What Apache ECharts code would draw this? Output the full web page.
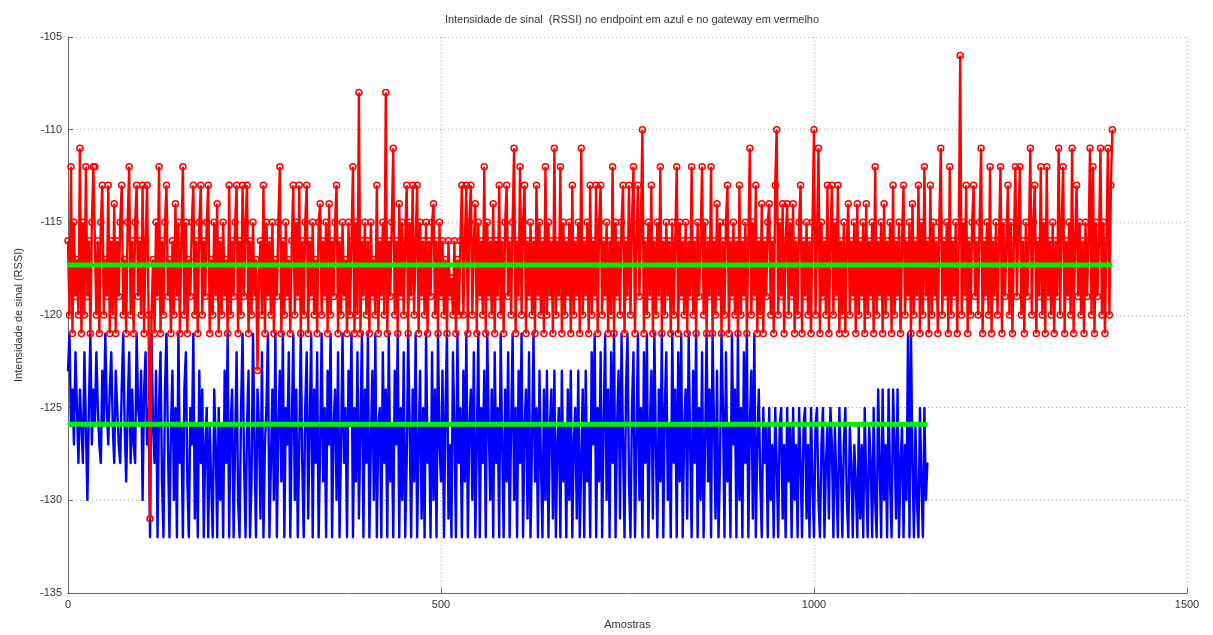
<!DOCTYPE html>
<html>
<head>
    <meta charset="utf-8" />
    <title>RSSI</title>
    <script type="text/javascript" src="https://cdn.jsdelivr.net/npm/echarts@6/dist/echarts.min.js"></script>
    <style>
        html, body { margin: 0; padding: 0; background: #fff; }
        #chart { width: 1213px; height: 635px; }
    </style>
</head>
<body>
    <div id="chart"></div>
    <script type="text/javascript">
        // one stored value every 2 samples
        var sampleStep = 2;

        // gateway (vermelho)
        var redRssi = [
            -116,-120,-112,-121,-115,-119,-117,-120,-111,-121,
            -115,-120,-112,-119,-116,-121,-115,-112,-112,-120,
            -116,-121,-115,-113,-120,-117,-119,-113,-121,-116,
            -120,-114,-121,-116,-119,-115,-113,-120,-117,-121,
            -115,-112,-120,-116,-121,-115,-113,-119,-116,-120,
            -113,-121,-116,-113,-120,-131,-120,-117,-121,-115,
            -119,-112,-121,-116,-120,-115,-113,-119,-117,-121,
            -116,-120,-114,-119,-115,-121,-116,-112,-120,-115,
            -121,-117,-119,-115,-113,-120,-116,-121,-115,-113,
            -120,-116,-119,-115,-113,-121,-117,-120,-115,-119,
            -114,-121,-116,-120,-115,-119,-117,-121,-113,-120,
            -116,-119,-115,-113,-121,-116,-120,-113,-119,-115,
            -113,-121,-116,-120,-115,-119,-117,-123,-118,-116,
            -120,-113,-121,-115,-119,-116,-120,-115,-121,-117,
            -119,-115,-112,-121,-116,-120,-115,-119,-117,-121,
            -116,-113,-120,-115,-119,-113,-121,-116,-120,-115,
            -113,-121,-116,-119,-115,-120,-117,-121,-115,-114,
            -120,-116,-119,-115,-121,-114,-120,-116,-119,-115,
            -113,-121,-116,-120,-115,-119,-117,-121,-115,-120,
            -116,-112,-121,-115,-120,-108,-121,-116,-119,-115,
            -120,-116,-121,-115,-119,-117,-120,-113,-121,-116,
            -119,-115,-120,-108,-121,-116,-119,-115,-111,-120,
            -116,-121,-114,-119,-115,-120,-116,-113,-121,-115,
            -119,-113,-120,-116,-113,-121,-115,-119,-116,-120,
            -115,-121,-116,-119,-115,-114,-120,-116,-121,-115,
            -119,-116,-120,-117,-121,-116,-119,-118,-120,-116,
            -121,-117,-120,-116,-113,-120,-116,-113,-121,-115,
            -113,-120,-116,-114,-121,-115,-119,-116,-120,-112,
            -121,-115,-119,-116,-120,-114,-121,-116,-119,-113,
            -120,-116,-121,-115,-113,-119,-116,-120,-115,-111,
            -121,-116,-119,-112,-120,-115,-113,-121,-116,-119,
            -115,-120,-116,-121,-113,-119,-115,-120,-116,-121,
            -112,-120,-115,-119,-116,-121,-111,-120,-116,-119,
            -112,-121,-115,-120,-116,-119,-115,-121,-113,-120,
            -116,-119,-115,-121,-111,-120,-116,-119,-115,-121,
            -113,-120,-116,-119,-113,-121,-115,-113,-120,-116,
            -119,-115,-121,-116,-120,-112,-121,-115,-119,-116,
            -120,-115,-113,-121,-116,-119,-113,-120,-115,-112,
            -121,-116,-113,-119,-115,-110,-121,-116,-120,-115,
            -119,-113,-121,-116,-120,-115,-119,-112,-121,-116,
            -120,-115,-119,-116,-121,-115,-120,-116,-112,-121,
            -115,-119,-116,-120,-115,-121,-116,-119,-112,-120,
            -116,-121,-115,-119,-116,-112,-120,-115,-121,-116,
            -119,-112,-121,-116,-120,-114,-119,-115,-121,-116,
            -120,-115,-113,-121,-116,-119,-115,-120,-116,-121,
            -113,-120,-116,-119,-115,-121,-116,-111,-120,-115,
            -119,-113,-121,-116,-120,-114,-121,-116,-119,-115,
            -114,-120,-116,-121,-113,-110,-120,-115,-119,-114,
            -121,-116,-114,-120,-115,-119,-114,-121,-116,-120,
            -115,-113,-121,-116,-119,-115,-120,-116,-121,-115,
            -110,-120,-116,-111,-121,-115,-119,-116,-120,-113,
            -121,-116,-113,-120,-115,-119,-113,-121,-116,-120,
            -115,-121,-116,-114,-120,-116,-119,-115,-121,-114,
            -120,-116,-119,-115,-121,-114,-120,-116,-119,-115,
            -121,-112,-120,-116,-119,-115,-121,-114,-120,-116,
            -119,-115,-121,-113,-120,-116,-119,-115,-121,-116,
            -113,-120,-116,-119,-115,-121,-114,-120,-116,-119,
            -113,-121,-115,-120,-112,-119,-116,-121,-113,-120,
            -115,-119,-116,-121,-115,-111,-120,-116,-119,-115,
            -121,-112,-120,-116,-119,-115,-121,-116,-106,-120,
            -115,-119,-113,-121,-116,-120,-115,-113,-119,-116,
            -120,-115,-111,-121,-116,-119,-115,-120,-112,-121,
            -116,-119,-115,-120,-116,-112,-121,-115,-119,-116,
            -113,-120,-115,-121,-116,-112,-119,-115,-112,-120,
            -116,-121,-115,-119,-116,-111,-120,-115,-113,-121,
            -116,-119,-112,-120,-115,-121,-112,-119,-116,-120,
            -115,-121,-116,-119,-111,-120,-115,-112,-121,-116,
            -119,-115,-120,-111,-121,-116,-113,-119,-115,-120,
            -116,-121,-115,-119,-116,-111,-120,-112,-121,-115,
            -119,-116,-111,-120,-115,-121,-116,-111,-120,-113,
            -110
        ];

        // endpoint (azul)
        var blueRssi = [
            -123,-121,-126,-124,-127,-122,-125,-128,-124,-126,
            -128,-122,-126,-130,-125,-121,-127,-124,-126,-122,
            -125,-127,-128,-123,-126,-121,-125,-127,-124,-122,
            -126,-128,-123,-125,-127,-128,-124,-121,-126,-129,
            -125,-122,-128,-124,-127,-128,-121,-125,-126,-123,
            -130,-124,-122,-127,-125,-132,-121,-126,-128,-123,
            -132,-125,-122,-129,-132,-124,-121,-127,-132,-126,
            -123,-130,-125,-132,-121,-128,-126,-132,-124,-122,
            -129,-132,-125,-127,-121,-131,-126,-132,-123,-128,
            -124,-132,-127,-125,-132,-126,-129,-132,-124,-127,
            -132,-125,-130,-126,-132,-123,-128,-121,-132,-126,
            -124,-132,-127,-122,-130,-132,-125,-121,-128,-132,
            -126,-123,-132,-129,-121,-127,-132,-124,-126,-131,
            -122,-132,-127,-125,-121,-132,-128,-124,-130,-121,
            -132,-126,-123,-129,-121,-132,-125,-127,-122,-132,
            -126,-121,-130,-124,-132,-127,-121,-128,-132,-125,
            -122,-131,-126,-121,-132,-124,-128,-122,-132,-127,
            -121,-129,-125,-132,-123,-127,-121,-132,-126,-124,
            -130,-122,-132,-127,-121,-128,-125,-132,-123,-126,
            -121,-132,-125,-129,-122,-131,-126,-121,-132,-124,
            -128,-121,-132,-127,-123,-130,-121,-132,-126,-125,
            -132,-122,-128,-124,-132,-121,-129,-126,-132,-123,
            -127,-121,-132,-125,-130,-122,-132,-128,-121,-126,
            -132,-124,-129,-121,-132,-127,-123,-131,-125,-132,
            -121,-128,-126,-132,-122,-130,-124,-132,-121,-127,
            -129,-123,-132,-125,-121,-131,-127,-132,-122,-126,
            -132,-121,-128,-125,-132,-123,-129,-121,-132,-126,
            -124,-130,-122,-132,-127,-121,-132,-125,-128,-123,
            -132,-121,-126,-130,-124,-132,-122,-128,-125,-132,
            -121,-127,-132,-124,-129,-122,-132,-126,-121,-130,
            -125,-132,-123,-128,-121,-132,-126,-124,-131,-122,
            -132,-127,-121,-129,-125,-132,-123,-128,-132,-124,
            -130,-123,-132,-126,-124,-131,-123,-132,-127,-125,
            -132,-123,-129,-126,-132,-124,-130,-123,-132,-127,
            -125,-131,-123,-132,-128,-124,-132,-123,-129,-126,
            -132,-122,-127,-121,-132,-125,-129,-122,-132,-126,
            -121,-130,-124,-132,-122,-128,-121,-132,-126,-123,
            -131,-121,-127,-132,-124,-121,-129,-132,-125,-122,
            -132,-127,-121,-130,-125,-132,-122,-128,-121,-132,
            -126,-123,-131,-121,-127,-132,-124,-129,-121,-132,
            -125,-122,-130,-126,-132,-121,-128,-124,-132,-122,
            -129,-121,-132,-126,-124,-131,-121,-127,-132,-123,
            -128,-121,-132,-125,-130,-122,-132,-127,-121,-129,
            -124,-132,-121,-126,-131,-123,-132,-128,-121,-125,
            -132,-122,-129,-126,-132,-121,-127,-124,-132,-121,
            -130,-125,-132,-122,-128,-121,-132,-126,-123,-131,
            -121,-132,-127,-124,-129,-132,-125,-128,-126,-132,
            -125,-130,-127,-132,-125,-128,-132,-126,-125,-131,
            -127,-132,-125,-129,-126,-132,-125,-130,-127,-132,
            -125,-128,-132,-126,-125,-131,-127,-132,-125,-129,
            -132,-126,-125,-130,-132,-127,-125,-132,-128,-126,
            -131,-125,-127,-132,-126,-129,-132,-125,-128,-132,
            -127,-125,-130,-132,-126,-128,-132,-127,-129,-132,
            -126,-131,-127,-132,-125,-129,-132,-126,-128,-132,
            -125,-130,-132,-124,-128,-132,-124,-130,-127,-132,
            -124,-129,-132,-124,-127,-131,-124,-132,-128,-126,
            -132,-127,-130,-121,-132,-121,-128,-132,-126,-130,
            -132,-125,-129,-132,-125,-130,-128
        ];

        // medias (linhas verdes)
        var redMean = -117.3;
        var blueMean = -125.9;

        var xTicks = [0, 500, 1000, 1500];
        var yTicks = [-135, -130, -125, -120, -115, -110, -105];

        function toPairs(arr) {
            var out = [];
            for (var i = 0; i < arr.length; i++) out.push([i * sampleStep, arr[i]]);
            return out;
        }
        var redLast = (redRssi.length - 1) * sampleStep;
        var blueLast = (blueRssi.length - 1) * sampleStep;

        var chart = echarts.init(document.getElementById("chart"), null, { renderer: 'canvas' });
        var fontFam = '"Liberation Sans", Arial, sans-serif';
        var option = {
            animation: false,
            backgroundColor: '#ffffff',
            title: {
                text: 'Intensidade de sinal  (RSSI) no endpoint em azul e no gateway em vermelho',
                left: 627,
                textAlign: 'center',
                top: 9,
                textStyle: { fontSize: 11, fontWeight: 'normal', color: '#333', fontFamily: fontFam }
            },
            grid: { left: 68, right: 26, top: 37, bottom: 42, containLabel: false, outerBoundsMode: 'none' },
            xAxis: {
                type: 'value',
                min: xTicks[0],
                max: xTicks[xTicks.length - 1],
                interval: 500,
                name: 'Amostras',
                nameLocation: 'middle',
                nameGap: 26,
                nameTextStyle: { fontSize: 11, color: '#333', fontFamily: fontFam },
                axisLine: { show: true, lineStyle: { color: '#666', width: 1 } },
                axisTick: { show: true, inside: true, length: 5, lineStyle: { color: '#666' } },
                axisLabel: { fontSize: 11, color: '#333', margin: 6, fontFamily: fontFam,
                    formatter: function (v) { return String(v); } },
                splitLine: { show: true, lineStyle: { type: [1, 3], color: '#aaa' } }
            },
            yAxis: {
                type: 'value',
                min: yTicks[0],
                max: yTicks[yTicks.length - 1],
                interval: 5,
                name: 'Intensidade de sinal (RSSI)',
                nameLocation: 'middle',
                nameGap: 44,
                nameTextStyle: { fontSize: 11, color: '#333', fontFamily: fontFam },
                axisLine: { show: true, lineStyle: { color: '#666', width: 1 } },
                axisTick: { show: true, inside: true, length: 5, lineStyle: { color: '#666' } },
                axisLabel: { fontSize: 11, color: '#333', margin: 6, fontFamily: fontFam },
                splitLine: { show: true, lineStyle: { type: [1, 3], color: '#aaa' } }
            },
            series: [{
                name: 'endpoint',
                type: 'line',
                data: toPairs(blueRssi),
                symbol: 'circle',
                symbolSize: 2,
                showAllSymbol: true,
                lineStyle: { color: '#0000ff', width: 2.4 },
                itemStyle: { color: '#0000ff' },
                z: 2
            }, {
                name: 'gateway',
                type: 'line',
                data: toPairs(redRssi),
                symbol: 'circle',
                symbolSize: 6,
                showAllSymbol: true,
                lineStyle: { color: '#ff0000', width: 2.4 },
                itemStyle: { color: 'rgba(255,255,255,0)', borderColor: '#ff0000', borderWidth: 1.5 },
                z: 3
            }, {
                name: 'media gateway',
                type: 'line',
                data: [[0, redMean], [redLast, redMean]],
                symbol: 'none',
                lineStyle: { color: '#00ee00', width: 5 },
                z: 4
            }, {
                name: 'media endpoint',
                type: 'line',
                data: [[0, blueMean], [blueLast, blueMean]],
                symbol: 'none',
                lineStyle: { color: '#00ee00', width: 5 },
                z: 4
            }]
        };
        chart.setOption(option);
    </script>
</body>
</html>
